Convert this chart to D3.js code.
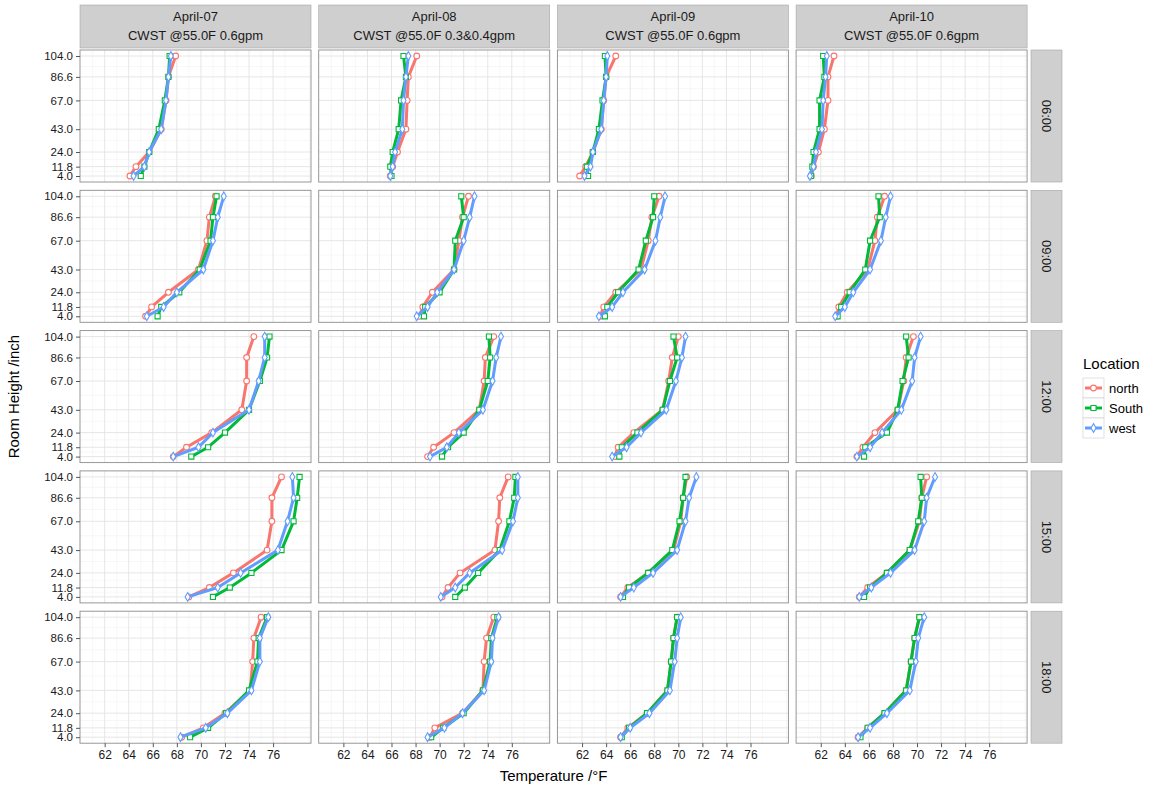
<!DOCTYPE html>
<html>
<head>
<meta charset="utf-8">
<script src="https://cdn.jsdelivr.net/npm/d3@7"></script>
<style>
  body { margin: 0; background: #fff; }
  text { font-family: "Liberation Sans", Arial, sans-serif; }
</style>
</head>
<body>
<svg id="chart" width="1165" height="793"></svg>
<script>
// facet labels
const dates = ["April-07", "April-08", "April-09", "April-10"];
const setups = ["CWST @55.0F 0.6gpm", "CWST @55.0F 0.3&0.4gpm", "CWST @55.0F 0.6gpm", "CWST @55.0F 0.6gpm"];
const times = ["06:00", "09:00", "12:00", "15:00", "18:00"];
const locations = ["north", "South", "west"];
const heights = [4.0, 11.8, 24.0, 43.0, 67.0, 86.6, 104.0];
const xTicks = [62, 64, 66, 68, 70, 72, 74, 76];

// temperature (F) at each height, [date][time][height]
const northTemp = [
  [[64.1, 64.6, 65.7, 66.7, 67.1, 67.3, 67.9],
   [65.4, 65.9, 67.3, 69.8, 70.5, 70.7, 71.2],
   [67.7, 68.8, 70.9, 73.4, 73.8, 73.8, 74.4],
   [69.0, 70.7, 72.7, 75.5, 75.9, 75.9, 76.7],
   [68.4, 70.2, 72.0, 74.1, 74.3, 74.4, 75.0]],
  [[65.9, 66.1, 66.5, 67.2, 67.3, 67.4, 68.1],
   [68.3, 68.6, 69.4, 71.2, 71.6, 71.9, 72.4],
   [69.0, 69.5, 71.2, 73.3, 73.7, 73.8, 74.5],
   [70.2, 70.7, 71.7, 74.6, 74.9, 75.0, 75.7],
   [69.2, 69.6, 71.9, 73.6, 73.7, 73.9, 74.5]],
  [[61.8, 62.3, 62.9, 63.6, 63.8, 64.0, 64.8],
   [63.5, 63.8, 64.8, 66.9, 67.5, 67.8, 68.4],
   [64.7, 65.0, 66.3, 68.7, 69.2, 69.5, 70.0],
   [65.2, 65.8, 67.5, 69.6, 70.2, 70.4, 70.7],
   [65.2, 65.8, 67.4, 69.1, 69.4, 69.6, 69.9]],
  [[61.2, 61.4, 61.8, 62.3, 62.6, 62.6, 63.1],
   [63.3, 63.5, 64.2, 65.9, 66.5, 66.7, 67.3],
   [65.0, 65.5, 66.5, 68.4, 68.9, 69.1, 69.7],
   [65.2, 65.9, 67.5, 69.4, 70.2, 70.4, 70.8],
   [65.1, 65.9, 67.3, 69.1, 69.5, 69.8, 70.2]]
];
const southTemp = [
  [[65.0, 65.3, 65.7, 66.5, 67.0, 67.3, 67.4],
   [66.4, 66.7, 68.2, 69.9, 70.8, 71.0, 71.3],
   [69.2, 70.6, 72.0, 74.0, 74.9, 75.5, 75.7],
   [71.0, 72.4, 74.2, 76.7, 77.7, 78.0, 78.2],
   [69.1, 70.6, 72.1, 74.0, 74.7, 74.8, 75.5]],
  [[66.0, 65.9, 66.1, 66.6, 66.8, 67.2, 67.0],
   [68.7, 68.8, 70.0, 71.2, 71.3, 72.0, 71.8],
   [70.2, 70.7, 72.0, 73.3, 74.0, 74.2, 74.1],
   [71.3, 72.1, 73.2, 75.0, 75.8, 76.2, 76.3],
   [69.3, 70.3, 72.0, 73.6, 74.2, 74.3, 74.8]],
  [[62.5, 62.4, 62.9, 63.4, 63.7, 64.0, 63.9],
   [63.9, 64.1, 65.0, 66.7, 67.3, 67.9, 68.0],
   [65.1, 65.3, 66.6, 68.7, 69.3, 69.9, 69.6],
   [65.4, 65.9, 67.5, 69.5, 70.1, 70.4, 70.6],
   [65.3, 65.9, 67.4, 69.1, 69.4, 69.6, 69.9]],
  [[61.2, 61.3, 61.4, 61.9, 61.9, 62.3, 62.2],
   [63.4, 63.7, 64.4, 65.7, 66.1, 66.9, 66.8],
   [65.6, 65.7, 67.5, 68.4, 68.8, 69.3, 69.1],
   [65.6, 66.1, 67.5, 69.4, 70.1, 70.4, 70.3],
   [65.3, 65.9, 67.3, 69.1, 69.5, 69.8, 70.2]]
];
const westTemp = [
  [[64.4, 65.3, 65.7, 66.7, 67.1, 67.3, 67.5],
   [65.5, 66.9, 68.0, 70.2, 71.0, 71.4, 71.9],
   [67.7, 69.8, 71.0, 74.0, 74.8, 75.3, 75.3],
   [68.9, 71.4, 73.3, 76.4, 77.2, 77.7, 77.6],
   [68.3, 70.4, 72.2, 74.2, 74.9, 74.9, 75.6]],
  [[65.9, 66.1, 66.3, 66.9, 67.0, 67.2, 67.4],
   [68.1, 69.0, 69.8, 71.2, 72.0, 72.5, 72.9],
   [69.2, 70.6, 71.6, 73.6, 74.4, 74.7, 75.1],
   [70.1, 71.3, 72.5, 75.2, 76.1, 76.5, 76.5],
   [69.0, 70.4, 71.9, 73.7, 74.3, 74.4, 74.9]],
  [[62.2, 62.7, 62.9, 63.6, 63.8, 64.0, 64.1],
   [63.4, 64.5, 65.4, 67.2, 68.1, 68.5, 68.9],
   [64.5, 65.7, 66.9, 69.0, 69.8, 70.3, 70.6],
   [65.2, 66.3, 67.9, 69.9, 70.6, 70.9, 71.5],
   [65.2, 66.0, 67.6, 69.3, 69.7, 69.9, 70.2]],
  [[61.1, 61.4, 61.6, 62.1, 62.2, 62.4, 62.5],
   [63.2, 64.0, 64.7, 66.1, 67.0, 67.4, 67.8],
   [65.0, 66.1, 67.1, 68.7, 69.6, 69.8, 70.3],
   [65.2, 66.2, 67.8, 69.8, 70.6, 70.8, 71.5],
   [65.1, 66.1, 67.5, 69.4, 69.9, 70.1, 70.6]]
];

const colors = ["#F8766D", "#00BA38", "#619CFF"];
const shapes = [d3.symbolCircle, d3.symbolSquare, d3.symbolDiamond];
const shapeSize = [26, 26, 22];
const seriesData = [northTemp, southTemp, westTemp];

const svg = d3.select("#chart");

const panelW = 231, panelH = 132;
const x0 = 80, y0 = 50, dx = 238.7, dy = 140.3;
const stripTop = 5, stripH = 43;
const rightStripX = 1031, rightStripW = 31;
const stripFill = "#cfcfcf";

const xScale = d3.scaleLinear().domain([59.95, 79.15]).range([0, panelW]);
const yScale = d3.scaleLinear().domain([-1, 109]).range([panelH, 0]);

// minor breaks halfway between major ones
const xMinor = [61, 63, 65, 67, 69, 71, 73, 75, 77, 79];
const yMinor = d3.pairs(heights).map(p => (p[0] + p[1]) / 2);

const line = d3.line()
  .x((d, i) => xScale(d))
  .y((d, i) => yScale(heights[i]));

// top strips
dates.forEach((dt, c) => {
  const g = svg.append("g").attr("transform", `translate(${x0 + c * dx},${stripTop})`);
  g.append("rect").attr("width", panelW).attr("height", stripH)
    .attr("fill", stripFill).attr("stroke", "#a6a6a6").attr("stroke-width", 0.6);
  g.append("text").attr("x", panelW / 2).attr("y", 16).attr("text-anchor", "middle")
    .attr("font-size", 13).attr("fill", "#1a1a1a").text(dt);
  g.append("text").attr("x", panelW / 2).attr("y", 35).attr("text-anchor", "middle")
    .attr("font-size", 13).attr("fill", "#1a1a1a").text(setups[c]);
});

// right strips
times.forEach((tm, r) => {
  const g = svg.append("g").attr("transform", `translate(${rightStripX},${y0 + r * dy})`);
  g.append("rect").attr("width", rightStripW).attr("height", panelH)
    .attr("fill", stripFill).attr("stroke", "#a6a6a6").attr("stroke-width", 0.6);
  g.append("text").attr("transform", `translate(${rightStripW / 2 - 5},${panelH / 2}) rotate(90)`)
    .attr("text-anchor", "middle").attr("font-size", 13).attr("fill", "#1a1a1a").text(tm);
});

// panels
times.forEach((tm, r) => {
  dates.forEach((dt, c) => {
    const g = svg.append("g").attr("transform", `translate(${x0 + c * dx},${y0 + r * dy})`);
    g.append("rect").attr("width", panelW).attr("height", panelH).attr("fill", "#fff");

    g.selectAll(".xminor").data(xMinor).join("line")
      .attr("x1", d => xScale(d)).attr("x2", d => xScale(d))
      .attr("y1", 0).attr("y2", panelH)
      .attr("stroke", "#f2f2f2").attr("stroke-width", 0.6);
    g.selectAll(".yminor").data(yMinor).join("line")
      .attr("y1", d => yScale(d)).attr("y2", d => yScale(d))
      .attr("x1", 0).attr("x2", panelW)
      .attr("stroke", "#f2f2f2").attr("stroke-width", 0.6);
    g.selectAll(".xmajor").data(xTicks).join("line")
      .attr("x1", d => xScale(d)).attr("x2", d => xScale(d))
      .attr("y1", 0).attr("y2", panelH)
      .attr("stroke", "#e3e3e3").attr("stroke-width", 0.9);
    g.selectAll(".ymajor").data(heights).join("line")
      .attr("y1", d => yScale(d)).attr("y2", d => yScale(d))
      .attr("x1", 0).attr("x2", panelW)
      .attr("stroke", "#e3e3e3").attr("stroke-width", 0.9);

    seriesData.forEach((series, s) => {
      const vals = series[c][r];
      g.append("path").datum(vals)
        .attr("d", line)
        .attr("fill", "none")
        .attr("stroke", colors[s])
        .attr("stroke-width", 3)
        .attr("stroke-linejoin", "round");
      g.selectAll(".pt" + s).data(vals).join("path")
        .attr("transform", (d, i) => `translate(${xScale(d)},${yScale(heights[i])})`)
        .attr("d", d3.symbol().type(shapes[s]).size(shapeSize[s]))
        .attr("fill", "#fff")
        .attr("stroke", colors[s])
        .attr("stroke-width", 1.1);
    });

    g.append("rect").attr("width", panelW).attr("height", panelH)
      .attr("fill", "none").attr("stroke", "#8c8c8c").attr("stroke-width", 0.9);

    // y axis on first column
    if (c === 0) {
      const ay = g.append("g").call(d3.axisLeft(yScale).tickValues(heights)
        .tickFormat(d3.format(".1f")).tickSize(4).tickPadding(3));
      ay.select(".domain").remove();
      ay.selectAll("line").attr("stroke", "#555");
      ay.selectAll("text").attr("font-size", 11.5).attr("fill", "#1a1a1a")
        .attr("font-family", "Liberation Sans, Arial, sans-serif");
    }
    // x axis on last row
    if (r === times.length - 1) {
      const ax = g.append("g").attr("transform", `translate(0,${panelH})`)
        .call(d3.axisBottom(xScale).tickValues(xTicks).tickSize(4).tickPadding(3));
      ax.select(".domain").remove();
      ax.selectAll("line").attr("stroke", "#555");
      ax.selectAll("text").attr("font-size", 12).attr("fill", "#1a1a1a")
        .attr("font-family", "Liberation Sans, Arial, sans-serif");
    }
  });
});

// axis titles
svg.append("text").attr("x", x0 + (3 * dx + panelW) / 2).attr("y", 781)
  .attr("text-anchor", "middle").attr("font-size", 15).attr("fill", "#000")
  .text("Temperature /°F");
svg.append("text").attr("transform", `translate(19,${y0 + (4 * dy + panelH) / 2}) rotate(-90)`)
  .attr("text-anchor", "middle").attr("font-size", 15).attr("fill", "#000")
  .text("Room Height /inch");

// legend
const lg = svg.append("g").attr("transform", "translate(1083,355)");
lg.append("text").attr("x", 0).attr("y", 14).attr("font-size", 15).attr("fill", "#000").text("Location");
locations.forEach((loc, i) => {
  const k = lg.append("g").attr("transform", `translate(0,${23 + i * 20})`);
  k.append("rect").attr("width", 21).attr("height", 20).attr("fill", "#fff")
    .attr("stroke", "#ccc").attr("stroke-width", 0.6);
  k.append("line").attr("x1", 2).attr("x2", 19).attr("y1", 10).attr("y2", 10)
    .attr("stroke", colors[i]).attr("stroke-width", 3);
  k.append("path").attr("transform", "translate(10.5,10)")
    .attr("d", d3.symbol().type(shapes[i]).size(shapeSize[i]))
    .attr("fill", "#fff").attr("stroke", colors[i]).attr("stroke-width", 1.1);
  k.append("text").attr("x", 26).attr("y", 14.5).attr("font-size", 13).attr("fill", "#000").text(loc);
});
</script>
</body>
</html>
